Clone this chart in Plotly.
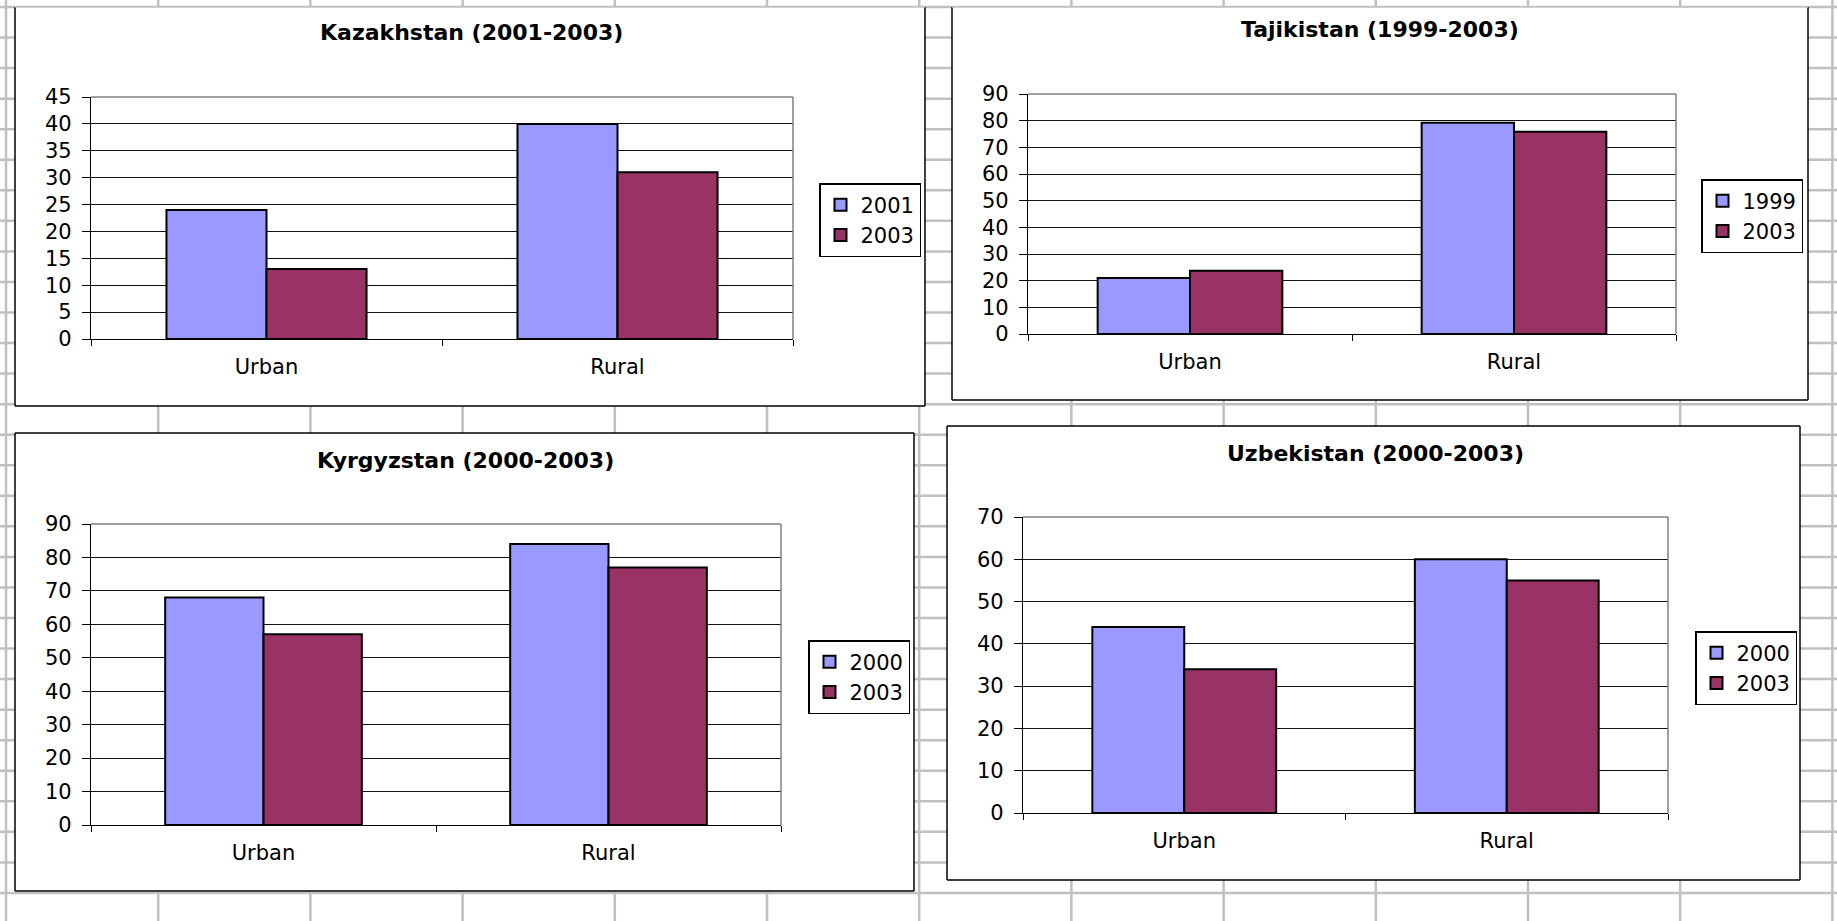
import plotly.graph_objects as go

W, H = 1837, 921

categories = ["Urban", "Rural"]

kaz_title = "Kazakhstan (2001-2003)"
kaz_years = ["2001", "2003"]
kaz_2001 = [24, 40]
kaz_2003 = [13, 31]

taj_title = "Tajikistan (1999-2003)"
taj_years = ["1999", "2003"]
taj_1999 = [21, 79.2]
taj_2003 = [23.7, 75.8]

kyr_title = "Kyrgyzstan (2000-2003)"
kyr_years = ["2000", "2003"]
kyr_2000 = [68, 84]
kyr_2003 = [57, 77]

uzb_title = "Uzbekistan (2000-2003)"
uzb_years = ["2000", "2003"]
uzb_2000 = [44, 60]
uzb_2003 = [34, 55]

colors = ["#9999FF", "#993366"]
FONT = "DejaVu Sans"

charts = [
    dict(title=kaz_title, names=kaz_years, values=[kaz_2001, kaz_2003], ymax=45, dtick=5,
         plot=(91, 97, 793, 339), box=(15, 7, 925, 406), top_black=False,
         legend=(819, 183), title_xy=(472, 32)),
    dict(title=taj_title, names=taj_years, values=[taj_1999, taj_2003], ymax=90, dtick=10,
         plot=(1028, 94, 1676, 334), box=(952, 7, 1808, 400), top_black=False,
         legend=(1701, 179), title_xy=(1380, 29)),
    dict(title=kyr_title, names=kyr_years, values=[kyr_2000, kyr_2003], ymax=90, dtick=10,
         plot=(91, 524, 781, 825), box=(15, 433, 914, 891), top_black=True,
         legend=(808, 640), title_xy=(465, 460)),
    dict(title=uzb_title, names=uzb_years, values=[uzb_2000, uzb_2003], ymax=70, dtick=10,
         plot=(1023, 517, 1668, 813), box=(947, 426, 1800, 880), top_black=True,
         legend=(1695, 631), title_xy=(1375, 453)),
]


def px(x):
    return x / W


def py(y):
    return 1 - y / H


fig = go.Figure()
shapes = []
annotations = []
layout = {}

# spreadsheet grid background
for k in range(13):
    x = 6 + 152.2 * k
    shapes.append(dict(type="line", xref="paper", yref="paper", x0=px(x), x1=px(x), y0=0, y1=1,
                       line=dict(color="#c0c0c0", width=2.5), layer="below"))
for k in range(31):
    y = 7 + 30.55 * k
    shapes.append(dict(type="line", xref="paper", yref="paper", x0=0, x1=1, y0=py(y), y1=py(y),
                       line=dict(color="#c0c0c0", width=2.5), layer="below"))

for i, c in enumerate(charts):
    n = "" if i == 0 else str(i + 1)
    xa, ya = "x" + n, "y" + n
    bx0, by0, bx1, by1 = c["box"]
    # chart box
    shapes.append(dict(type="rect", xref="paper", yref="paper", x0=px(bx0), x1=px(bx1),
                       y0=py(by1), y1=py(by0), fillcolor="white", line=dict(width=0), layer="below"))
    for (x0, y0, x1, y1) in [(bx0, by0, bx0, by1), (bx1, by0, bx1, by1), (bx0, by1, bx1, by1)]:
        shapes.append(dict(type="line", xref="paper", yref="paper", x0=px(x0), x1=px(x1),
                           y0=py(y0), y1=py(y1), line=dict(color="black", width=1.5), layer="below"))
    shapes.append(dict(type="line", xref="paper", yref="paper", x0=px(bx0), x1=px(bx1),
                       y0=py(by0), y1=py(by0),
                       line=dict(color="black" if c["top_black"] else "#c0c0c0", width=1.5),
                       layer="below"))

    for j, (name, vals) in enumerate(zip(c["names"], c["values"])):
        fig.add_trace(go.Bar(
            x=categories, y=vals, name=name, xaxis=xa, yaxis=ya,
            marker=dict(color=colors[j], line=dict(color="black", width=2)),
            legend="legend" + n, showlegend=True, hoverinfo="x+y+name",
        ))

    x0, y0, x1, y1 = c["plot"]
    layout["xaxis" + n] = dict(
        domain=[px(x0), px(x1)], anchor=ya, type="category", showline=True,
        linecolor="black", linewidth=1.2, ticks="outside", tickson="boundaries",
        ticklen=6, tickcolor="black", showgrid=False, fixedrange=True, automargin=False,
        tickfont=dict(family=FONT, size=21, color="black"), ticklabelstandoff=9,
    )
    layout["yaxis" + n] = dict(
        domain=[py(y1), py(y0)], anchor=xa, range=[0, c["ymax"]], tick0=0, dtick=c["dtick"],
        showline=True, linecolor="black", linewidth=1.2, ticks="outside", ticklen=8,
        tickcolor="black", showgrid=True, gridcolor="#111111", gridwidth=1.2, zeroline=False,
        fixedrange=True, automargin=False, tickfont=dict(family=FONT, size=21, color="black"),
        ticklabelstandoff=6,
    )
    # plot-area top/right border in gray
    shapes.append(dict(type="line", xref=xa + " domain", yref=ya + " domain", x0=0, x1=1, y0=1, y1=1,
                       line=dict(color="#808080", width=1.5)))
    shapes.append(dict(type="line", xref=xa + " domain", yref=ya + " domain", x0=1, x1=1, y0=0, y1=1,
                       line=dict(color="#808080", width=1.5)))

    lx, ly = c["legend"]
    layout["legend" + n] = dict(
        x=px(lx), y=py(ly), xanchor="left", yanchor="top", bordercolor="black", borderwidth=1.5,
        bgcolor="white", font=dict(family=FONT, size=21, color="black"),
        tracegroupgap=0, itemwidth=30, orientation="v",
    )

    tx, ty = c["title_xy"]
    annotations.append(dict(
        text=c["title"], xref="paper", yref="paper", x=px(tx), y=py(ty),
        xanchor="center", yanchor="middle", showarrow=False,
        font=dict(family=FONT, size=22, color="black", weight="bold"),
    ))

fig.update_layout(
    width=W, height=H, margin=dict(l=0, r=0, t=0, b=0, pad=0, autoexpand=False),
    paper_bgcolor="white", plot_bgcolor="white",
    barmode="group", bargap=0.43, bargroupgap=0,
    shapes=shapes, annotations=annotations, **layout,
)

fig.write_html("out.html", post_script="document.body.style.margin='0';")
